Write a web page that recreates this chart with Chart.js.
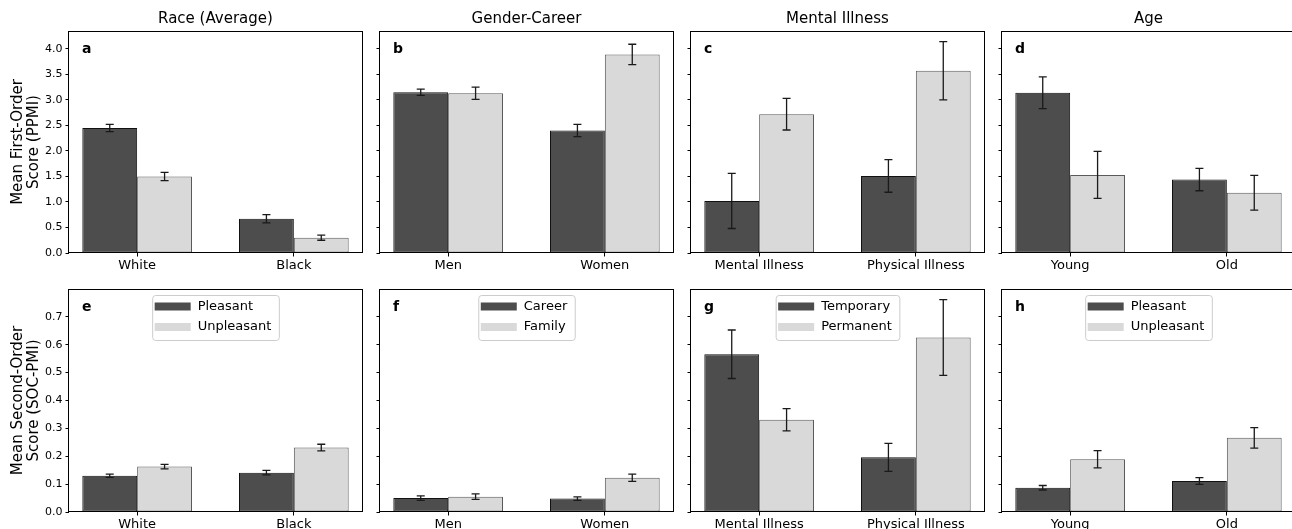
<!DOCTYPE html>
<html lang="en">
<head>
<meta charset="UTF-8">
<title>First- and second-order association scores</title>
<script src="https://cdn.jsdelivr.net/npm/chart.js"></script>
<style>
  html, body { margin: 0; padding: 0; background: #fff; overflow: hidden; }
  #figure { position: relative; width: 1292px; height: 529px; overflow: hidden; }
  #figure canvas { position: absolute; }
</style>
</head>
<body>
<div id="figure"></div>
<script>
const panelTitles = ['Race (Average)', 'Gender-Career', 'Mental Illness', 'Age'];
const panelLetters = [['a', 'b', 'c', 'd'], ['e', 'f', 'g', 'h']];
const categories = [['White', 'Black'], ['Men', 'Women'], ['Mental Illness', 'Physical Illness'], ['Young', 'Old']];
const seriesNames = [['Pleasant', 'Unpleasant'], ['Career', 'Family'], ['Temporary', 'Permanent'], ['Pleasant', 'Unpleasant']];
const rowLabels = [['Mean First-Order', 'Score (PPMI)'], ['Mean Second-Order', 'Score (SOC-PMI)']];

// first-order scores (PPMI), per panel: [first category, second category]
const ppmiFirst = [[2.45, 0.67], [3.15, 2.40], [1.02, 1.51], [3.14, 1.44]];
const ppmiFirstErr = [[0.07, 0.08], [0.06, 0.12], [0.54, 0.32], [0.31, 0.22]];
const ppmiSecond = [[1.50, 0.30], [3.13, 3.89], [2.72, 3.57], [1.53, 1.18]];
const ppmiSecondErr = [[0.08, 0.05], [0.12, 0.20], [0.31, 0.57], [0.46, 0.34]];

// second-order scores (SOC-PMI)
const socFirst = [[0.130, 0.141], [0.050, 0.048], [0.566, 0.196], [0.087, 0.111]];
const socFirstErr = [[0.006, 0.008], [0.008, 0.006], [0.087, 0.050], [0.008, 0.012]];
const socSecond = [[0.163, 0.231], [0.055, 0.123], [0.331, 0.626], [0.189, 0.266]];
const socSecondErr = [[0.008, 0.012], [0.010, 0.013], [0.040, 0.136], [0.031, 0.037]];

const ppmiTicks = [0, 0.5, 1, 1.5, 2, 2.5, 3, 3.5, 4];
const socTicks = [0, 0.1, 0.2, 0.3, 0.4, 0.5, 0.6, 0.7];
const yMax = [4.35, 0.80];

// layout of the 2x4 grid (plot areas, px)
const plotLefts = [69, 380, 691, 1002];
const plotW = 293;
const plotTops = [31, 289];
const plotH = [222, 223];

const FONT = '"DejaVu Sans", sans-serif';
Chart.defaults.font.family = FONT;
Chart.defaults.color = '#000';

const panelDecor = {
  id: 'panelDecor',
  afterDatasetsDraw(chart) {
    const ctx = chart.ctx, ys = chart.scales.y;
    ctx.save();
    ctx.strokeStyle = '#1a1a1a';
    ctx.lineWidth = 1.3;
    chart.data.datasets.forEach((ds, i) => {
      chart.getDatasetMeta(i).data.forEach((bar, j) => {
        const v = ds.data[j].y, e = ds.errors[j];
        const x = bar.x, y1 = ys.getPixelForValue(v + e), y2 = ys.getPixelForValue(v - e);
        ctx.beginPath();
        ctx.moveTo(x, y1); ctx.lineTo(x, y2);
        ctx.moveTo(x - 4, y1); ctx.lineTo(x + 4, y1);
        ctx.moveTo(x - 4, y2); ctx.lineTo(x + 4, y2);
        ctx.stroke();
      });
    });
    ctx.restore();
  },
  afterDraw(chart, args, opts) {
    const ctx = chart.ctx, a = chart.chartArea;
    ctx.save();
    // frame
    ctx.strokeStyle = '#000';
    ctx.lineWidth = 1;
    ctx.strokeRect(Math.round(a.left) - 0.5, Math.round(a.top) + 0.5,
      Math.round(a.right - a.left) + 1, Math.round(a.bottom - a.top) - 1);

    ctx.fillStyle = '#000';
    ctx.textBaseline = 'middle';
    if (opts.title) {
      ctx.font = '15px ' + FONT;
      ctx.textAlign = 'center';
      ctx.fillText(opts.title, (a.left + a.right) / 2, a.top - 12);
    }
    ctx.font = 'bold 14px ' + FONT;
    ctx.textAlign = 'left';
    ctx.fillText(opts.letter, a.left + 13, a.top + 18);

    if (opts.rowLabel) {
      ctx.font = '15px ' + FONT;
      ctx.textAlign = 'center';
      const cy = (a.top + a.bottom) / 2;
      [18, 34].forEach((x, k) => {
        ctx.save();
        ctx.translate(x, cy);
        ctx.rotate(-Math.PI / 2);
        ctx.fillText(opts.rowLabel[k], 0, 0);
        ctx.restore();
      });
    }

    if (opts.legend) {
      ctx.font = '13px ' + FONT;
      const dss = chart.data.datasets;
      const tw = Math.max(...dss.map(d => ctx.measureText(d.label).width));
      const w = 2 + 36 + 7 + tw + 8, h = 45;
      const bx = (a.left + a.right) / 2 - w / 2, by = a.top + 6;
      ctx.beginPath();
      ctx.roundRect(bx + 0.5, by + 0.5, w, h, 3);
      ctx.fillStyle = 'rgba(255,255,255,0.8)';
      ctx.fill();
      ctx.strokeStyle = '#cccccc';
      ctx.stroke();
      ctx.textAlign = 'left';
      dss.forEach((d, i) => {
        const cy = by + 11.5 + i * 20.5;
        ctx.fillStyle = d.backgroundColor;
        ctx.fillRect(bx + 2.5, cy - 4, 36, 8);
        ctx.fillStyle = '#000';
        ctx.fillText(d.label, bx + 45.5, cy);
      });
    }
    ctx.restore();
  }
};

const fig = document.getElementById('figure');

for (let r = 0; r < 2; r++) {
  for (let c = 0; c < 4; c++) {
    const padL = c === 0 ? 69 : 16, padT = r === 0 ? 31 : 12, padR = 8, axisH = 30;
    const w = padL + plotW + padR, h = padT + plotH[r] + axisH;
    const cv = document.createElement('canvas');
    cv.width = w; cv.height = h;
    cv.style.width = w + 'px'; cv.style.height = h + 'px';
    cv.style.left = (plotLefts[c] - padL) + 'px';
    cv.style.top = (plotTops[r] - padT) + 'px';
    fig.appendChild(cv);

    const first = r === 0 ? ppmiFirst : socFirst;
    const firstErr = r === 0 ? ppmiFirstErr : socFirstErr;
    const second = r === 0 ? ppmiSecond : socSecond;
    const secondErr = r === 0 ? ppmiSecondErr : socSecondErr;
    const yTicks = r === 0 ? ppmiTicks : socTicks;
    const cats = categories[c];

    new Chart(cv, {
      type: 'bar',
      data: {
        datasets: [
          {
            label: seriesNames[c][0],
            data: cats.map((_, j) => ({ x: j, y: first[c][j] })),
            errors: firstErr[c],
            backgroundColor: '#4d4d4d',
            borderColor: '#111111',
            borderWidth: 1,
            borderSkipped: false
          },
          {
            label: seriesNames[c][1],
            data: cats.map((_, j) => ({ x: j, y: second[c][j] })),
            errors: secondErr[c],
            backgroundColor: '#d9d9d9',
            borderColor: '#5a5a5a',
            borderWidth: 1,
            borderSkipped: false
          }
        ]
      },
      options: {
        responsive: false,
        animation: false,
        devicePixelRatio: 1,
        categoryPercentage: 0.7,
        barPercentage: 1.0,
        layout: { padding: { top: padT, right: padR, left: 0, bottom: 0 } },
        plugins: {
          legend: { display: false },
          tooltip: { enabled: false },
          panelDecor: {
            title: r === 0 ? panelTitles[c] : null,
            letter: panelLetters[r][c],
            rowLabel: c === 0 ? rowLabels[r] : null,
            legend: r === 1
          }
        },
        scales: {
          x: {
            type: 'linear',
            min: -0.435,
            max: 1.435,
            offset: false,
            afterBuildTicks: s => { s.ticks = cats.map((_, j) => ({ value: j })); },
            afterFit: s => { s.height = axisH; },
            ticks: {
              callback: (v, i) => cats[i],
              font: { size: 13 },
              color: '#000',
              padding: 1,
              maxRotation: 0,
              autoSkip: false
            },
            grid: { drawOnChartArea: false, drawTicks: true, tickLength: 3.5, color: '#000', offset: false },
            border: { display: false }
          },
          y: {
            min: 0,
            max: yMax[r],
            afterBuildTicks: s => { s.ticks = yTicks.map(v => ({ value: v })); },
            afterFit: s => { s.width = padL; },
            ticks: {
              callback: v => c === 0 ? v.toFixed(1) : '',
              font: { size: 11 },
              color: '#000',
              padding: 3
            },
            grid: { drawOnChartArea: false, drawTicks: true, tickLength: 3.5, color: '#000' },
            border: { display: false }
          }
        }
      },
      plugins: [panelDecor]
    });
  }
}
</script>
</body>
</html>
